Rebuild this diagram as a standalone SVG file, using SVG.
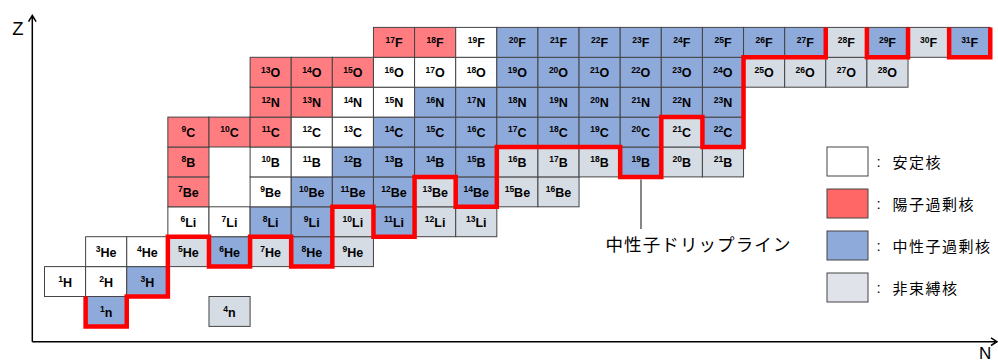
<svg xmlns="http://www.w3.org/2000/svg" width="998" height="363" viewBox="0 0 998 363">
<style>
rect{stroke:#444;stroke-width:1}
.s{fill:#ffffff}
.p{fill:#ff7c80}
.n{fill:#8eaadb}
.u{fill:#d6dce4}
.c text{font-family:"Liberation Sans",Arial,sans-serif;font-weight:bold;font-size:12.5px;text-anchor:middle;fill:#000}
.c .m{font-size:8.5px}
.lg{font-family:"Noto Sans CJK JP",sans-serif;font-size:15px;letter-spacing:1.5px;fill:#000}
.col{font-family:"Liberation Sans",Arial,sans-serif;font-size:15px;fill:#000}
.ax{fill:none;stroke:#000;stroke-width:1.5}
.drip{fill:none;stroke:#ff0000;stroke-width:4.5;stroke-linejoin:miter}
</style>
<g id="axes">
<path class="ax" d="M32.3,341.7 V15.5 M28.5,21.7 L32.3,15.5 L36.1,21.7"/>
<path class="ax" d="M32.3,341.7 H997 M991,337.9 L997,341.7 L991,345.5"/>
<text x="12.3" y="35" style="font-family:'Liberation Sans',Arial,sans-serif;font-size:18.5px">Z</text>
<text x="979" y="359" style="font-family:'Liberation Sans',Arial,sans-serif;font-size:17px">N</text>
</g>
<g id="nuclides">
<g id="c-1n" class="c" transform="translate(85.62,296.5)"><rect class="n" width="41.12" height="29.9"/><text x="20.56" y="20"><tspan class="m" dy="-4.6">1</tspan><tspan dy="4.6">n</tspan></text></g>
<g id="c-4n" class="c" transform="translate(208.98,296.5)"><rect class="u" width="41.12" height="29.9"/><text x="20.56" y="20"><tspan class="m" dy="-4.6">4</tspan><tspan dy="4.6">n</tspan></text></g>
<g id="c-1H" class="c" transform="translate(44.5,266.6)"><rect class="s" width="41.12" height="29.9"/><text x="20.56" y="20"><tspan class="m" dy="-4.6">1</tspan><tspan dy="4.6">H</tspan></text></g>
<g id="c-2H" class="c" transform="translate(85.62,266.6)"><rect class="s" width="41.12" height="29.9"/><text x="20.56" y="20"><tspan class="m" dy="-4.6">2</tspan><tspan dy="4.6">H</tspan></text></g>
<g id="c-3H" class="c" transform="translate(126.74,266.6)"><rect class="n" width="41.12" height="29.9"/><text x="20.56" y="20"><tspan class="m" dy="-4.6">3</tspan><tspan dy="4.6">H</tspan></text></g>
<g id="c-3He" class="c" transform="translate(85.62,236.7)"><rect class="s" width="41.12" height="29.9"/><text x="20.56" y="20"><tspan class="m" dy="-4.6">3</tspan><tspan dy="4.6">He</tspan></text></g>
<g id="c-4He" class="c" transform="translate(126.74,236.7)"><rect class="s" width="41.12" height="29.9"/><text x="20.56" y="20"><tspan class="m" dy="-4.6">4</tspan><tspan dy="4.6">He</tspan></text></g>
<g id="c-5He" class="c" transform="translate(167.86,236.7)"><rect class="u" width="41.12" height="29.9"/><text x="20.56" y="20"><tspan class="m" dy="-4.6">5</tspan><tspan dy="4.6">He</tspan></text></g>
<g id="c-6He" class="c" transform="translate(208.98,236.7)"><rect class="n" width="41.12" height="29.9"/><text x="20.56" y="20"><tspan class="m" dy="-4.6">6</tspan><tspan dy="4.6">He</tspan></text></g>
<g id="c-7He" class="c" transform="translate(250.1,236.7)"><rect class="u" width="41.12" height="29.9"/><text x="20.56" y="20"><tspan class="m" dy="-4.6">7</tspan><tspan dy="4.6">He</tspan></text></g>
<g id="c-8He" class="c" transform="translate(291.22,236.7)"><rect class="n" width="41.12" height="29.9"/><text x="20.56" y="20"><tspan class="m" dy="-4.6">8</tspan><tspan dy="4.6">He</tspan></text></g>
<g id="c-9He" class="c" transform="translate(332.34,236.7)"><rect class="u" width="41.12" height="29.9"/><text x="20.56" y="20"><tspan class="m" dy="-4.6">9</tspan><tspan dy="4.6">He</tspan></text></g>
<g id="c-6Li" class="c" transform="translate(167.86,206.8)"><rect class="s" width="41.12" height="29.9"/><text x="20.56" y="20"><tspan class="m" dy="-4.6">6</tspan><tspan dy="4.6">Li</tspan></text></g>
<g id="c-7Li" class="c" transform="translate(208.98,206.8)"><rect class="s" width="41.12" height="29.9"/><text x="20.56" y="20"><tspan class="m" dy="-4.6">7</tspan><tspan dy="4.6">Li</tspan></text></g>
<g id="c-8Li" class="c" transform="translate(250.1,206.8)"><rect class="n" width="41.12" height="29.9"/><text x="20.56" y="20"><tspan class="m" dy="-4.6">8</tspan><tspan dy="4.6">Li</tspan></text></g>
<g id="c-9Li" class="c" transform="translate(291.22,206.8)"><rect class="n" width="41.12" height="29.9"/><text x="20.56" y="20"><tspan class="m" dy="-4.6">9</tspan><tspan dy="4.6">Li</tspan></text></g>
<g id="c-10Li" class="c" transform="translate(332.34,206.8)"><rect class="u" width="41.12" height="29.9"/><text x="20.56" y="20"><tspan class="m" dy="-4.6">10</tspan><tspan dy="4.6">Li</tspan></text></g>
<g id="c-11Li" class="c" transform="translate(373.46,206.8)"><rect class="n" width="41.12" height="29.9"/><text x="20.56" y="20"><tspan class="m" dy="-4.6">11</tspan><tspan dy="4.6">Li</tspan></text></g>
<g id="c-12Li" class="c" transform="translate(414.58,206.8)"><rect class="u" width="41.12" height="29.9"/><text x="20.56" y="20"><tspan class="m" dy="-4.6">12</tspan><tspan dy="4.6">Li</tspan></text></g>
<g id="c-13Li" class="c" transform="translate(455.7,206.8)"><rect class="u" width="41.12" height="29.9"/><text x="20.56" y="20"><tspan class="m" dy="-4.6">13</tspan><tspan dy="4.6">Li</tspan></text></g>
<g id="c-7Be" class="c" transform="translate(167.86,176.9)"><rect class="p" width="41.12" height="29.9"/><text x="20.56" y="20"><tspan class="m" dy="-4.6">7</tspan><tspan dy="4.6">Be</tspan></text></g>
<g id="c-9Be" class="c" transform="translate(250.1,176.9)"><rect class="s" width="41.12" height="29.9"/><text x="20.56" y="20"><tspan class="m" dy="-4.6">9</tspan><tspan dy="4.6">Be</tspan></text></g>
<g id="c-10Be" class="c" transform="translate(291.22,176.9)"><rect class="n" width="41.12" height="29.9"/><text x="20.56" y="20"><tspan class="m" dy="-4.6">10</tspan><tspan dy="4.6">Be</tspan></text></g>
<g id="c-11Be" class="c" transform="translate(332.34,176.9)"><rect class="n" width="41.12" height="29.9"/><text x="20.56" y="20"><tspan class="m" dy="-4.6">11</tspan><tspan dy="4.6">Be</tspan></text></g>
<g id="c-12Be" class="c" transform="translate(373.46,176.9)"><rect class="n" width="41.12" height="29.9"/><text x="20.56" y="20"><tspan class="m" dy="-4.6">12</tspan><tspan dy="4.6">Be</tspan></text></g>
<g id="c-13Be" class="c" transform="translate(414.58,176.9)"><rect class="u" width="41.12" height="29.9"/><text x="20.56" y="20"><tspan class="m" dy="-4.6">13</tspan><tspan dy="4.6">Be</tspan></text></g>
<g id="c-14Be" class="c" transform="translate(455.7,176.9)"><rect class="n" width="41.12" height="29.9"/><text x="20.56" y="20"><tspan class="m" dy="-4.6">14</tspan><tspan dy="4.6">Be</tspan></text></g>
<g id="c-15Be" class="c" transform="translate(496.82,176.9)"><rect class="u" width="41.12" height="29.9"/><text x="20.56" y="20"><tspan class="m" dy="-4.6">15</tspan><tspan dy="4.6">Be</tspan></text></g>
<g id="c-16Be" class="c" transform="translate(537.94,176.9)"><rect class="u" width="41.12" height="29.9"/><text x="20.56" y="20"><tspan class="m" dy="-4.6">16</tspan><tspan dy="4.6">Be</tspan></text></g>
<g id="c-8B" class="c" transform="translate(167.86,147)"><rect class="p" width="41.12" height="29.9"/><text x="20.56" y="20"><tspan class="m" dy="-4.6">8</tspan><tspan dy="4.6">B</tspan></text></g>
<g id="c-10B" class="c" transform="translate(250.1,147)"><rect class="s" width="41.12" height="29.9"/><text x="20.56" y="20"><tspan class="m" dy="-4.6">10</tspan><tspan dy="4.6">B</tspan></text></g>
<g id="c-11B" class="c" transform="translate(291.22,147)"><rect class="s" width="41.12" height="29.9"/><text x="20.56" y="20"><tspan class="m" dy="-4.6">11</tspan><tspan dy="4.6">B</tspan></text></g>
<g id="c-12B" class="c" transform="translate(332.34,147)"><rect class="n" width="41.12" height="29.9"/><text x="20.56" y="20"><tspan class="m" dy="-4.6">12</tspan><tspan dy="4.6">B</tspan></text></g>
<g id="c-13B" class="c" transform="translate(373.46,147)"><rect class="n" width="41.12" height="29.9"/><text x="20.56" y="20"><tspan class="m" dy="-4.6">13</tspan><tspan dy="4.6">B</tspan></text></g>
<g id="c-14B" class="c" transform="translate(414.58,147)"><rect class="n" width="41.12" height="29.9"/><text x="20.56" y="20"><tspan class="m" dy="-4.6">14</tspan><tspan dy="4.6">B</tspan></text></g>
<g id="c-15B" class="c" transform="translate(455.7,147)"><rect class="n" width="41.12" height="29.9"/><text x="20.56" y="20"><tspan class="m" dy="-4.6">15</tspan><tspan dy="4.6">B</tspan></text></g>
<g id="c-16B" class="c" transform="translate(496.82,147)"><rect class="u" width="41.12" height="29.9"/><text x="20.56" y="20"><tspan class="m" dy="-4.6">16</tspan><tspan dy="4.6">B</tspan></text></g>
<g id="c-17B" class="c" transform="translate(537.94,147)"><rect class="u" width="41.12" height="29.9"/><text x="20.56" y="20"><tspan class="m" dy="-4.6">17</tspan><tspan dy="4.6">B</tspan></text></g>
<g id="c-18B" class="c" transform="translate(579.06,147)"><rect class="u" width="41.12" height="29.9"/><text x="20.56" y="20"><tspan class="m" dy="-4.6">18</tspan><tspan dy="4.6">B</tspan></text></g>
<g id="c-19B" class="c" transform="translate(620.18,147)"><rect class="n" width="41.12" height="29.9"/><text x="20.56" y="20"><tspan class="m" dy="-4.6">19</tspan><tspan dy="4.6">B</tspan></text></g>
<g id="c-20B" class="c" transform="translate(661.3,147)"><rect class="u" width="41.12" height="29.9"/><text x="20.56" y="20"><tspan class="m" dy="-4.6">20</tspan><tspan dy="4.6">B</tspan></text></g>
<g id="c-21B" class="c" transform="translate(702.42,147)"><rect class="u" width="41.12" height="29.9"/><text x="20.56" y="20"><tspan class="m" dy="-4.6">21</tspan><tspan dy="4.6">B</tspan></text></g>
<g id="c-9C" class="c" transform="translate(167.86,117.1)"><rect class="p" width="41.12" height="29.9"/><text x="20.56" y="20"><tspan class="m" dy="-4.6">9</tspan><tspan dy="4.6">C</tspan></text></g>
<g id="c-10C" class="c" transform="translate(208.98,117.1)"><rect class="p" width="41.12" height="29.9"/><text x="20.56" y="20"><tspan class="m" dy="-4.6">10</tspan><tspan dy="4.6">C</tspan></text></g>
<g id="c-11C" class="c" transform="translate(250.1,117.1)"><rect class="p" width="41.12" height="29.9"/><text x="20.56" y="20"><tspan class="m" dy="-4.6">11</tspan><tspan dy="4.6">C</tspan></text></g>
<g id="c-12C" class="c" transform="translate(291.22,117.1)"><rect class="s" width="41.12" height="29.9"/><text x="20.56" y="20"><tspan class="m" dy="-4.6">12</tspan><tspan dy="4.6">C</tspan></text></g>
<g id="c-13C" class="c" transform="translate(332.34,117.1)"><rect class="s" width="41.12" height="29.9"/><text x="20.56" y="20"><tspan class="m" dy="-4.6">13</tspan><tspan dy="4.6">C</tspan></text></g>
<g id="c-14C" class="c" transform="translate(373.46,117.1)"><rect class="n" width="41.12" height="29.9"/><text x="20.56" y="20"><tspan class="m" dy="-4.6">14</tspan><tspan dy="4.6">C</tspan></text></g>
<g id="c-15C" class="c" transform="translate(414.58,117.1)"><rect class="n" width="41.12" height="29.9"/><text x="20.56" y="20"><tspan class="m" dy="-4.6">15</tspan><tspan dy="4.6">C</tspan></text></g>
<g id="c-16C" class="c" transform="translate(455.7,117.1)"><rect class="n" width="41.12" height="29.9"/><text x="20.56" y="20"><tspan class="m" dy="-4.6">16</tspan><tspan dy="4.6">C</tspan></text></g>
<g id="c-17C" class="c" transform="translate(496.82,117.1)"><rect class="n" width="41.12" height="29.9"/><text x="20.56" y="20"><tspan class="m" dy="-4.6">17</tspan><tspan dy="4.6">C</tspan></text></g>
<g id="c-18C" class="c" transform="translate(537.94,117.1)"><rect class="n" width="41.12" height="29.9"/><text x="20.56" y="20"><tspan class="m" dy="-4.6">18</tspan><tspan dy="4.6">C</tspan></text></g>
<g id="c-19C" class="c" transform="translate(579.06,117.1)"><rect class="n" width="41.12" height="29.9"/><text x="20.56" y="20"><tspan class="m" dy="-4.6">19</tspan><tspan dy="4.6">C</tspan></text></g>
<g id="c-20C" class="c" transform="translate(620.18,117.1)"><rect class="n" width="41.12" height="29.9"/><text x="20.56" y="20"><tspan class="m" dy="-4.6">20</tspan><tspan dy="4.6">C</tspan></text></g>
<g id="c-21C" class="c" transform="translate(661.3,117.1)"><rect class="u" width="41.12" height="29.9"/><text x="20.56" y="20"><tspan class="m" dy="-4.6">21</tspan><tspan dy="4.6">C</tspan></text></g>
<g id="c-22C" class="c" transform="translate(702.42,117.1)"><rect class="n" width="41.12" height="29.9"/><text x="20.56" y="20"><tspan class="m" dy="-4.6">22</tspan><tspan dy="4.6">C</tspan></text></g>
<g id="c-12N" class="c" transform="translate(250.1,87.2)"><rect class="p" width="41.12" height="29.9"/><text x="20.56" y="20"><tspan class="m" dy="-4.6">12</tspan><tspan dy="4.6">N</tspan></text></g>
<g id="c-13N" class="c" transform="translate(291.22,87.2)"><rect class="p" width="41.12" height="29.9"/><text x="20.56" y="20"><tspan class="m" dy="-4.6">13</tspan><tspan dy="4.6">N</tspan></text></g>
<g id="c-14N" class="c" transform="translate(332.34,87.2)"><rect class="s" width="41.12" height="29.9"/><text x="20.56" y="20"><tspan class="m" dy="-4.6">14</tspan><tspan dy="4.6">N</tspan></text></g>
<g id="c-15N" class="c" transform="translate(373.46,87.2)"><rect class="s" width="41.12" height="29.9"/><text x="20.56" y="20"><tspan class="m" dy="-4.6">15</tspan><tspan dy="4.6">N</tspan></text></g>
<g id="c-16N" class="c" transform="translate(414.58,87.2)"><rect class="n" width="41.12" height="29.9"/><text x="20.56" y="20"><tspan class="m" dy="-4.6">16</tspan><tspan dy="4.6">N</tspan></text></g>
<g id="c-17N" class="c" transform="translate(455.7,87.2)"><rect class="n" width="41.12" height="29.9"/><text x="20.56" y="20"><tspan class="m" dy="-4.6">17</tspan><tspan dy="4.6">N</tspan></text></g>
<g id="c-18N" class="c" transform="translate(496.82,87.2)"><rect class="n" width="41.12" height="29.9"/><text x="20.56" y="20"><tspan class="m" dy="-4.6">18</tspan><tspan dy="4.6">N</tspan></text></g>
<g id="c-19N" class="c" transform="translate(537.94,87.2)"><rect class="n" width="41.12" height="29.9"/><text x="20.56" y="20"><tspan class="m" dy="-4.6">19</tspan><tspan dy="4.6">N</tspan></text></g>
<g id="c-20N" class="c" transform="translate(579.06,87.2)"><rect class="n" width="41.12" height="29.9"/><text x="20.56" y="20"><tspan class="m" dy="-4.6">20</tspan><tspan dy="4.6">N</tspan></text></g>
<g id="c-21N" class="c" transform="translate(620.18,87.2)"><rect class="n" width="41.12" height="29.9"/><text x="20.56" y="20"><tspan class="m" dy="-4.6">21</tspan><tspan dy="4.6">N</tspan></text></g>
<g id="c-22N" class="c" transform="translate(661.3,87.2)"><rect class="n" width="41.12" height="29.9"/><text x="20.56" y="20"><tspan class="m" dy="-4.6">22</tspan><tspan dy="4.6">N</tspan></text></g>
<g id="c-23N" class="c" transform="translate(702.42,87.2)"><rect class="n" width="41.12" height="29.9"/><text x="20.56" y="20"><tspan class="m" dy="-4.6">23</tspan><tspan dy="4.6">N</tspan></text></g>
<g id="c-13O" class="c" transform="translate(250.1,57.3)"><rect class="p" width="41.12" height="29.9"/><text x="20.56" y="20"><tspan class="m" dy="-4.6">13</tspan><tspan dy="4.6">O</tspan></text></g>
<g id="c-14O" class="c" transform="translate(291.22,57.3)"><rect class="p" width="41.12" height="29.9"/><text x="20.56" y="20"><tspan class="m" dy="-4.6">14</tspan><tspan dy="4.6">O</tspan></text></g>
<g id="c-15O" class="c" transform="translate(332.34,57.3)"><rect class="p" width="41.12" height="29.9"/><text x="20.56" y="20"><tspan class="m" dy="-4.6">15</tspan><tspan dy="4.6">O</tspan></text></g>
<g id="c-16O" class="c" transform="translate(373.46,57.3)"><rect class="s" width="41.12" height="29.9"/><text x="20.56" y="20"><tspan class="m" dy="-4.6">16</tspan><tspan dy="4.6">O</tspan></text></g>
<g id="c-17O" class="c" transform="translate(414.58,57.3)"><rect class="s" width="41.12" height="29.9"/><text x="20.56" y="20"><tspan class="m" dy="-4.6">17</tspan><tspan dy="4.6">O</tspan></text></g>
<g id="c-18O" class="c" transform="translate(455.7,57.3)"><rect class="s" width="41.12" height="29.9"/><text x="20.56" y="20"><tspan class="m" dy="-4.6">18</tspan><tspan dy="4.6">O</tspan></text></g>
<g id="c-19O" class="c" transform="translate(496.82,57.3)"><rect class="n" width="41.12" height="29.9"/><text x="20.56" y="20"><tspan class="m" dy="-4.6">19</tspan><tspan dy="4.6">O</tspan></text></g>
<g id="c-20O" class="c" transform="translate(537.94,57.3)"><rect class="n" width="41.12" height="29.9"/><text x="20.56" y="20"><tspan class="m" dy="-4.6">20</tspan><tspan dy="4.6">O</tspan></text></g>
<g id="c-21O" class="c" transform="translate(579.06,57.3)"><rect class="n" width="41.12" height="29.9"/><text x="20.56" y="20"><tspan class="m" dy="-4.6">21</tspan><tspan dy="4.6">O</tspan></text></g>
<g id="c-22O" class="c" transform="translate(620.18,57.3)"><rect class="n" width="41.12" height="29.9"/><text x="20.56" y="20"><tspan class="m" dy="-4.6">22</tspan><tspan dy="4.6">O</tspan></text></g>
<g id="c-23O" class="c" transform="translate(661.3,57.3)"><rect class="n" width="41.12" height="29.9"/><text x="20.56" y="20"><tspan class="m" dy="-4.6">23</tspan><tspan dy="4.6">O</tspan></text></g>
<g id="c-24O" class="c" transform="translate(702.42,57.3)"><rect class="n" width="41.12" height="29.9"/><text x="20.56" y="20"><tspan class="m" dy="-4.6">24</tspan><tspan dy="4.6">O</tspan></text></g>
<g id="c-25O" class="c" transform="translate(743.54,57.3)"><rect class="u" width="41.12" height="29.9"/><text x="20.56" y="20"><tspan class="m" dy="-4.6">25</tspan><tspan dy="4.6">O</tspan></text></g>
<g id="c-26O" class="c" transform="translate(784.66,57.3)"><rect class="u" width="41.12" height="29.9"/><text x="20.56" y="20"><tspan class="m" dy="-4.6">26</tspan><tspan dy="4.6">O</tspan></text></g>
<g id="c-27O" class="c" transform="translate(825.78,57.3)"><rect class="u" width="41.12" height="29.9"/><text x="20.56" y="20"><tspan class="m" dy="-4.6">27</tspan><tspan dy="4.6">O</tspan></text></g>
<g id="c-28O" class="c" transform="translate(866.9,57.3)"><rect class="u" width="41.12" height="29.9"/><text x="20.56" y="20"><tspan class="m" dy="-4.6">28</tspan><tspan dy="4.6">O</tspan></text></g>
<g id="c-17F" class="c" transform="translate(373.46,27.4)"><rect class="p" width="41.12" height="29.9"/><text x="20.56" y="20"><tspan class="m" dy="-4.6">17</tspan><tspan dy="4.6">F</tspan></text></g>
<g id="c-18F" class="c" transform="translate(414.58,27.4)"><rect class="p" width="41.12" height="29.9"/><text x="20.56" y="20"><tspan class="m" dy="-4.6">18</tspan><tspan dy="4.6">F</tspan></text></g>
<g id="c-19F" class="c" transform="translate(455.7,27.4)"><rect class="s" width="41.12" height="29.9"/><text x="20.56" y="20"><tspan class="m" dy="-4.6">19</tspan><tspan dy="4.6">F</tspan></text></g>
<g id="c-20F" class="c" transform="translate(496.82,27.4)"><rect class="n" width="41.12" height="29.9"/><text x="20.56" y="20"><tspan class="m" dy="-4.6">20</tspan><tspan dy="4.6">F</tspan></text></g>
<g id="c-21F" class="c" transform="translate(537.94,27.4)"><rect class="n" width="41.12" height="29.9"/><text x="20.56" y="20"><tspan class="m" dy="-4.6">21</tspan><tspan dy="4.6">F</tspan></text></g>
<g id="c-22F" class="c" transform="translate(579.06,27.4)"><rect class="n" width="41.12" height="29.9"/><text x="20.56" y="20"><tspan class="m" dy="-4.6">22</tspan><tspan dy="4.6">F</tspan></text></g>
<g id="c-23F" class="c" transform="translate(620.18,27.4)"><rect class="n" width="41.12" height="29.9"/><text x="20.56" y="20"><tspan class="m" dy="-4.6">23</tspan><tspan dy="4.6">F</tspan></text></g>
<g id="c-24F" class="c" transform="translate(661.3,27.4)"><rect class="n" width="41.12" height="29.9"/><text x="20.56" y="20"><tspan class="m" dy="-4.6">24</tspan><tspan dy="4.6">F</tspan></text></g>
<g id="c-25F" class="c" transform="translate(702.42,27.4)"><rect class="n" width="41.12" height="29.9"/><text x="20.56" y="20"><tspan class="m" dy="-4.6">25</tspan><tspan dy="4.6">F</tspan></text></g>
<g id="c-26F" class="c" transform="translate(743.54,27.4)"><rect class="n" width="41.12" height="29.9"/><text x="20.56" y="20"><tspan class="m" dy="-4.6">26</tspan><tspan dy="4.6">F</tspan></text></g>
<g id="c-27F" class="c" transform="translate(784.66,27.4)"><rect class="n" width="41.12" height="29.9"/><text x="20.56" y="20"><tspan class="m" dy="-4.6">27</tspan><tspan dy="4.6">F</tspan></text></g>
<g id="c-28F" class="c" transform="translate(825.78,27.4)"><rect class="u" width="41.12" height="29.9"/><text x="20.56" y="20"><tspan class="m" dy="-4.6">28</tspan><tspan dy="4.6">F</tspan></text></g>
<g id="c-29F" class="c" transform="translate(866.9,27.4)"><rect class="n" width="41.12" height="29.9"/><text x="20.56" y="20"><tspan class="m" dy="-4.6">29</tspan><tspan dy="4.6">F</tspan></text></g>
<g id="c-30F" class="c" transform="translate(908.02,27.4)"><rect class="u" width="41.12" height="29.9"/><text x="20.56" y="20"><tspan class="m" dy="-4.6">30</tspan><tspan dy="4.6">F</tspan></text></g>
<g id="c-31F" class="c" transform="translate(949.14,27.4)"><rect class="n" width="41.12" height="29.9"/><text x="20.56" y="20"><tspan class="m" dy="-4.6">31</tspan><tspan dy="4.6">F</tspan></text></g>
</g>
<g id="connectors">
<path class="drip" d="M85.62,296.5 V326.4 H126.74 V296.5 H167.86 V236.7 H208.98 V266.6 H250.1 V236.7 H291.22 V266.6 H332.34 V206.8 H373.46 V236.7 H414.58 V176.9 H455.7 V206.8 H496.82 V147 H620.18 V176.9 H661.3 V117.1 H702.42 V147 H743.54 V57.3 H825.78 V27.4"/>
<path class="drip" d="M866.9,27.4 V57.3 H908.02 V27.4"/>
<path class="drip" d="M949.14,27.4 V57.3 H990.26 V27.4"/>
<line x1="641" y1="179.5" x2="641" y2="229" stroke="#444" stroke-width="1.3"/>
</g>
<g id="drip-label">
<text x="605.5" y="250.5" style="font-family:'Noto Sans CJK JP',sans-serif;font-size:17.5px;letter-spacing:1.1px;fill:#000">中性子ドリップライン</text>
</g>
<g id="legend">
<g id="lg-stable"><rect class="s" x="827" y="147" width="41" height="29"/><text class="col" x="876.5" y="167">:</text><text class="lg" x="892.5" y="167.5">安定核</text></g>
<g id="lg-proton"><rect x="827" y="189" width="41" height="29" fill="#ff6666"/><text class="col" x="876.5" y="209">:</text><text class="lg" x="892.5" y="209.5">陽子過剰核</text></g>
<g id="lg-neutron"><rect class="n" x="827" y="231" width="41" height="29"/><text class="col" x="876.5" y="251">:</text><text class="lg" x="892.5" y="251.5">中性子過剰核</text></g>
<g id="lg-unbound"><rect x="827" y="273" width="41" height="29" fill="#e0e4ea"/><text class="col" x="876.5" y="293">:</text><text class="lg" x="892.5" y="293.5">非束縛核</text></g>
</g>
</svg>
